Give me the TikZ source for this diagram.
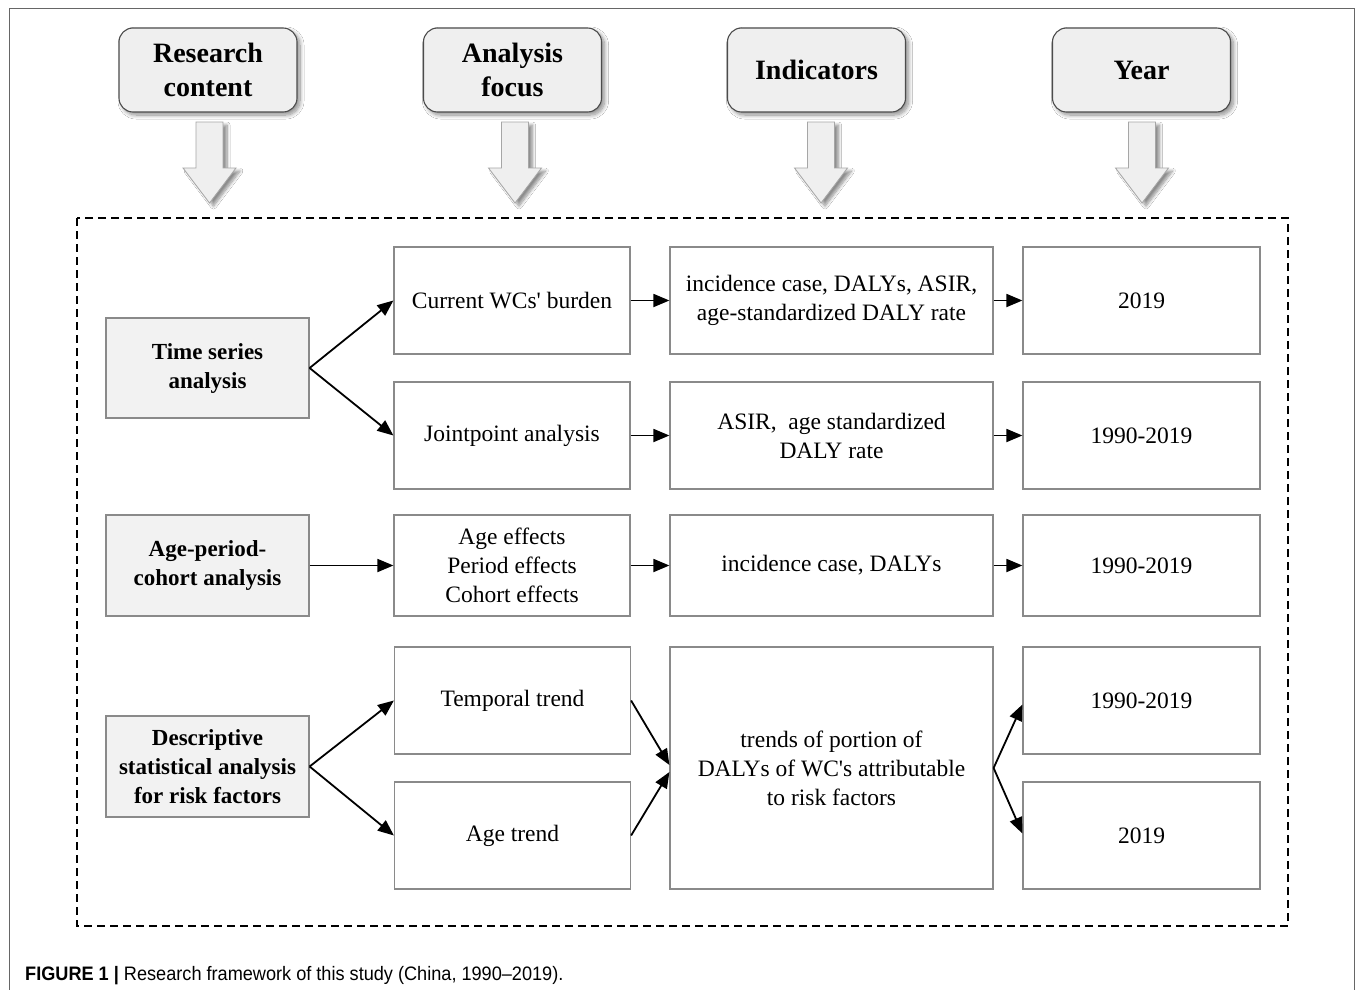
\documentclass[tikz,border=0pt]{standalone}
\usepackage{fontspec}
\setmainfont{Liberation Serif}[Ligatures=TeXOff]
\newfontfamily\capfont{Liberation Sans}
\usetikzlibrary{arrows.meta,shadows.blur}
\definecolor{hdrfill}{HTML}{EFEFEF}
\definecolor{boxgray}{HTML}{8A8A8A}
\definecolor{leftfill}{HTML}{F2F2F2}
\tikzset{
  hdr/.style={draw=black!70, line width=1.1pt, fill=hdrfill, rounded corners=14pt,
    minimum width=178pt, minimum height=84pt, inner sep=0pt, align=center,
    font=\fontsize{28}{34}\selectfont\bfseries,
    blur shadow={shadow xshift=3pt, shadow yshift=-3pt, shadow blur radius=4pt, shadow blur steps=10, shadow opacity=45}},
  downarr/.style={draw=black!35, line width=0.8pt, fill=hdrfill,
    blur shadow={shadow xshift=4pt, shadow yshift=-3pt, shadow blur radius=3pt, shadow blur steps=8, shadow opacity=45}},
  wbox/.style={draw=boxgray, line width=1.2pt, fill=white, inner sep=0pt, align=center,
    font=\fontsize{23.5}{29}\selectfont},
  lbox/.style={draw=boxgray, line width=1.2pt, fill=leftfill, inner sep=0pt, align=center,
    minimum width=203pt, font=\fontsize{23}{29}\selectfont\bfseries},
  conn/.style={-{Triangle[length=16pt,width=13pt]}, line width=1.8pt, black},
}
\newcommand{\mydownarrow}[1]{%
  \path[downarr] (#1-13.5,122) -- (#1+13.5,122) -- (#1+13.5,168) -- (#1+26.5,168)
    -- (#1,203) -- (#1-26.5,168) -- (#1-13.5,168) -- cycle;}
\begin{document}
\begin{tikzpicture}[x=1pt,y=-1pt]
\useasboundingbox (0,0) rectangle (1355,990);
\fill[white] (0,0) rectangle (1355,990);
% outer frame
\draw[black!60, line width=1pt] (9,990) -- (9,8.5) -- (1354,8.5) -- (1354,990);

% header boxes
\node[hdr] (h1) at (208,70) {Research\\content};
\node[hdr] (h2) at (512.5,70) {Analysis\\focus};
\node[hdr] (h3) at (816.5,70) {Indicators};
\node[hdr] (h4) at (1141.5,70) {Year};

% down block arrows
\mydownarrow{209.5}
\mydownarrow{515}
\mydownarrow{821}
\mydownarrow{1142}

% dashed frame
\draw[black, line width=1.5pt, dash pattern=on 8pt off 5pt] (77,218) rectangle (1288,926);

% left column
\node[lbox, minimum height=100pt] (ts) at (207.5,368) {Time series\\analysis};
\node[lbox, minimum height=101pt] (ap) at (207.5,565.5) {Age-period-\\cohort analysis};
\node[lbox, minimum height=101pt] (ds) at (207.5,766.5) {Descriptive\\statistical analysis\\for risk factors};

% column 2
\node[wbox, minimum width=236pt, minimum height=107pt] (b21) at (512,300.5) {Current WCs' burden};
\node[wbox, minimum width=236pt, minimum height=107pt] (b22) at (512,435.5) {Jointpoint analysis};
\node[wbox, minimum width=236pt, minimum height=101pt] (b23) at (512,565.5) {Age effects\\Period effects\\Cohort effects};
\node[wbox, minimum width=236pt, minimum height=107pt] (b24) at (512.5,700.5) {Temporal trend};
\node[wbox, minimum width=236pt, minimum height=107pt] (b25) at (512.5,835.5) {Age trend};

% column 3
\node[wbox, minimum width=323pt, minimum height=107pt] (b31) at (831.5,300.5) {incidence case, DALYs, ASIR,\\age-standardized DALY rate};
\node[wbox, minimum width=323pt, minimum height=107pt] (b32) at (831.5,435.5) {ASIR,\ \ age standardized\\DALY rate};
\node[wbox, minimum width=323pt, minimum height=101pt] (b33) at (831.5,565.5) {incidence case, DALYs};
\node[wbox, minimum width=323pt, minimum height=242pt] (b34) at (831.5,768) {trends of portion of\\DALYs of WC's attributable\\to risk factors};

% column 4
\node[wbox, minimum width=237pt, minimum height=107pt] (b41) at (1141.5,300.5) {2019};
\node[wbox, minimum width=237pt, minimum height=107pt] (b42) at (1141.5,435.5) {1990-2019};
\node[wbox, minimum width=237pt, minimum height=101pt] (b43) at (1141.5,565.5) {1990-2019};
\node[wbox, minimum width=237pt, minimum height=107pt] (b44) at (1141.5,700.5) {1990-2019};
\node[wbox, minimum width=237pt, minimum height=107pt] (b45) at (1141.5,835.5) {2019};

% connectors
\draw[conn] (ts.east) -- (b21.west);
\draw[conn] (ts.east) -- (b22.west);
\draw[conn] (b21.east) -- (b31.west);
\draw[conn] (b31.east) -- (b41.west);
\draw[conn] (b22.east) -- (b32.west);
\draw[conn] (b32.east) -- (b42.west);
\draw[conn] (ap.east) -- (b23.west);
\draw[conn] (b23.east) -- (b33.west);
\draw[conn] (b33.east) -- (b43.west);
\draw[conn] (ds.east) -- (b24.west);
\draw[conn] (ds.east) -- (b25.west);
\draw[conn] (b24.east) -- ([yshift=3pt]b34.west);
\draw[conn] (b25.east) -- ([yshift=-4pt]b34.west);
\draw[conn] (b34.east) -- ([yshift=-4pt]b44.west);
\draw[conn] (b34.east) -- ([yshift=2pt]b45.west);

% caption
\node[anchor=base west, inner sep=0pt, font=\capfont\fontsize{19.5}{22}\selectfont] (cap) at (25,980)
  {\scalebox{0.93}[1]{\textbf{FIGURE 1 |} Research framework of this study (China, 1990–2019).}};
\end{tikzpicture}
\end{document}
